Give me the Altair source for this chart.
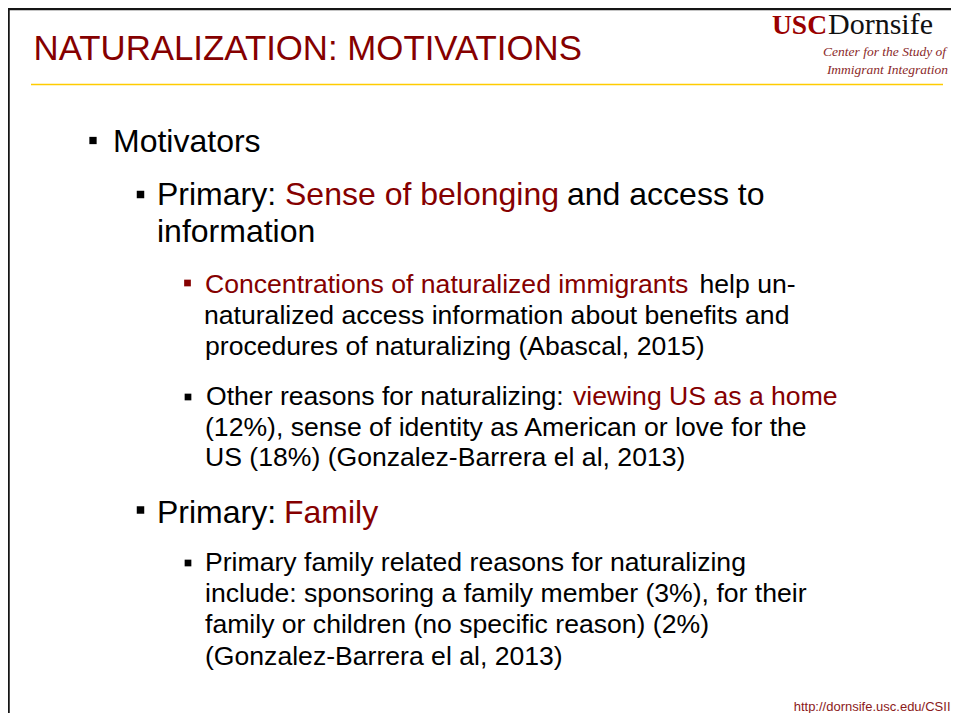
import altair as alt
import pandas as pd

# ---------------- slide content ----------------
title = "NATURALIZATION: MOTIVATIONS"
logo_main = ["USC", "Dornsife"]
logo_sub = ["Center for the Study of", "Immigrant Integration"]
footer = "http://dornsife.usc.edu/CSII"

seg_text = [
    "Motivators",
    "Primary: ", "Sense of belonging", "and access to",
    "information",
    "Concentrations of naturalized immigrants", "help un-",
    "naturalized access information about benefits and",
    "procedures of naturalizing (Abascal, 2015)",
    "Other reasons for naturalizing: ", "viewing US as a home",
    "(12%), sense of identity as American or love for the",
    "US (18%) (Gonzalez-Barrera el al, 2013)",
    "Primary: ", "Family",
    "Primary family related reasons for naturalizing",
    "include: sponsoring a family member (3%), for their",
    "family or children (no specific reason) (2%)",
    "(Gonzalez-Barrera el al, 2013)",
]
seg_level = [1, 2, 2, 2, 2, 3, 3, 3, 3, 3, 3, 3, 3, 2, 2, 3, 3, 3, 3]
seg_red = [0, 0, 1, 0, 0, 1, 0, 0, 0, 0, 1, 0, 0, 0, 1, 0, 0, 0, 0]

bullet_level = [1, 2, 3, 3, 2, 3]
bullet_red = [0, 0, 1, 0, 0, 0]

# ---------------- layout (page pixel coordinates) ----------------
seg_x = [113, 157, 285, 567, 157, 205, 699.5, 204, 205, 206, 573, 205, 205, 157, 284, 205, 205, 205, 205]
seg_y = [152, 205, 205, 205, 242, 293, 293, 324, 355, 405, 405, 436, 466, 523, 523, 571, 602, 633, 665]
bullet_x = [93, 140.5, 187.5, 188, 140.5, 188]
bullet_y = [140.5, 194.5, 283, 397, 510, 563]

W, H = 943, 705
RED = "#850000"
LEVEL_SIZE = {1: 32, 2: 32, 3: 26.6}
BULLET_AREA = {1: 53, 2: 56, 3: 45}

XS = alt.Scale(domain=[8, 8 + W], nice=False, zero=False)
YS = alt.Scale(domain=[8, 8 + H], nice=False, zero=False, reverse=True)


def text_layer(df, **kw):
    return alt.Chart(df).mark_text(baseline="alphabetic", **kw).encode(
        x=alt.X("x:Q", scale=XS, axis=None),
        y=alt.Y("y:Q", scale=YS, axis=None),
        text="t:N",
        color=alt.Color("c:N", scale=None),
        size=alt.Size("s:Q", scale=None),
    )


body = pd.DataFrame({
    "t": seg_text,
    "x": seg_x,
    "y": seg_y,
    "s": [LEVEL_SIZE[l] for l in seg_level],
    "c": [RED if r else "#000000" for r in seg_red],
})
title_df = pd.DataFrame({"t": [title], "x": [33.5], "y": [59.5], "s": [34.8], "c": [RED]})
footer_df = pd.DataFrame({"t": [footer], "x": [950.5], "y": [711], "s": [13], "c": ["#8b1a1a"]})
usc_df = pd.DataFrame({"t": [logo_main[0]], "x": [772], "y": [33.5], "s": [27.5], "c": ["#9a0000"]})
dorn_df = pd.DataFrame({"t": [logo_main[1]], "x": [828], "y": [33.5], "s": [30], "c": ["#111111"]})
sub_df = pd.DataFrame({"t": logo_sub, "x": [946, 948], "y": [56, 73.5], "s": [13.5, 13.5],
                       "c": ["#8b2a2a", "#8b2a2a"]})

bullets = pd.DataFrame({
    "x": bullet_x,
    "y": bullet_y,
    "a": [BULLET_AREA[l] for l in bullet_level],
    "c": [RED if r else "#000000" for r in bullet_red],
})

rules = pd.DataFrame({
    "x": [8.5, 7, 31],
    "x2": [8.5, 959, 943],
    "y": [5, 9, 84.5],
    "y2": [721, 9, 84.5],
    "c": ["#151515", "#151515", "#FFCC00"],
    "w": [2.5, 2.5, 1.5],
})

rule_layer = alt.Chart(rules).mark_rule().encode(
    x=alt.X("x:Q", scale=XS, axis=None),
    x2="x2:Q",
    y=alt.Y("y:Q", scale=YS, axis=None),
    y2="y2:Q",
    color=alt.Color("c:N", scale=None),
    size=alt.Size("w:Q", scale=None),
)

bullet_layer = alt.Chart(bullets).mark_square(filled=True, opacity=1).encode(
    x=alt.X("x:Q", scale=XS, axis=None),
    y=alt.Y("y:Q", scale=YS, axis=None),
    size=alt.Size("a:Q", scale=None),
    color=alt.Color("c:N", scale=None),
)

chart = alt.layer(
    rule_layer,
    bullet_layer,
    text_layer(title_df, align="left", font="Liberation Sans"),
    text_layer(body, align="left", font="Liberation Sans"),
    text_layer(footer_df, align="right", font="Liberation Sans"),
    text_layer(usc_df, align="left", font="Liberation Serif", fontWeight="bold"),
    text_layer(dorn_df, align="left", font="Liberation Serif"),
    text_layer(sub_df, align="right", font="Liberation Serif", fontStyle="italic"),
).properties(
    width=W, height=H, padding=0, autosize="none", background="white"
).configure_view(stroke=None)

chart.save("out.html", embed_options={"renderer": "svg", "actions": False})
